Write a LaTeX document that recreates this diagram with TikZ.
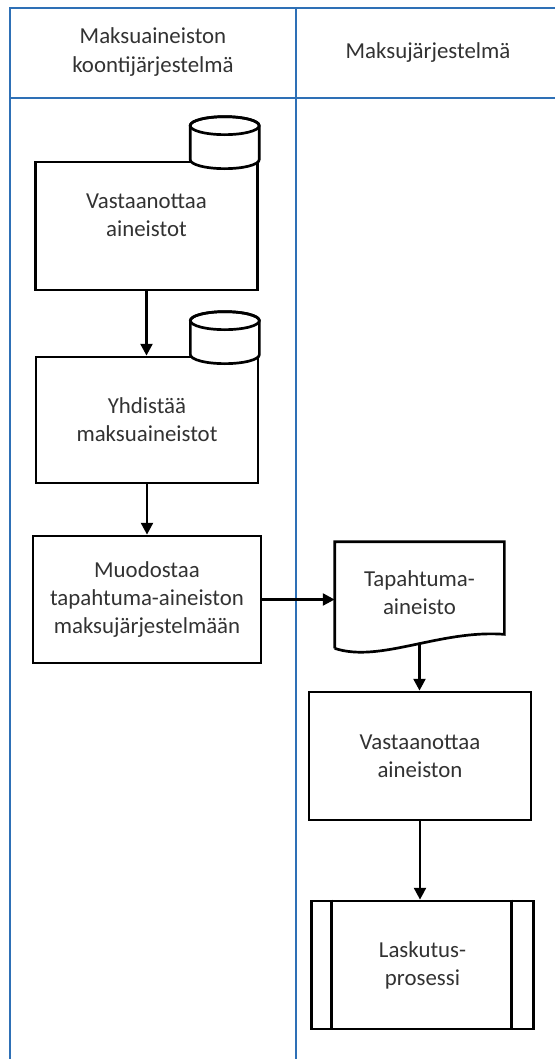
\documentclass[tikz,border=0pt]{standalone}
\usepackage{fontspec}
\setmainfont{Carlito}
\usetikzlibrary{arrows.meta,calc}
\definecolor{lanecol}{RGB}{46,112,182}
\definecolor{txtcol}{RGB}{50,50,50}

\begin{document}
\begin{tikzpicture}[x=0.03cm,y=-0.03cm,->,>={Triangle[length=10pt,width=10pt]},
    line width=2.3pt,font=\fontsize{19.5}{24}\selectfont]
  \tikzstyle{lane}=[-,draw=lanecol,line width=2pt]
  \tikzstyle{head}=[text=txtcol,align=center]
  \tikzstyle{task}=[rectangle,draw,text=txtcol,align=center,minimum width=6.68cm,minimum height=3.84cm]
  \useasboundingbox (0,0) rectangle (555,1059);
  % swimlanes
  \draw[lane] (10,1059) -- (10,8) -- (555,8);
  \draw[lane] (10,98) -- (555,98);
  \draw[lane] (296,8) -- (296,1059);
  \node[head] (hdrA) at (153,52) {Maksuaineiston\\koontijärjestelmä};
  \node[head] (hdrB) at (428,53) {Maksujärjestelmä};
  % left lane
  \node[task] (recv) at (146.5,226) {Vastaanottaa\\aineistot\\[-5pt]~};
  \node[task,minimum width=6.66cm,minimum height=3.78cm] (merge) at (147,420) {Yhdistää\\maksuaineistot};
  \node[task,minimum width=6.84cm,minimum height=3.81cm] (build) at (147,599.5) {Muodostaa\\tapahtuma-aineiston\\maksujärjestelmään};
  \foreach \b in {recv,merge}
  {
    \filldraw[-,fill=white] ($(\b.north east)+(0,-35)$) -- ($(\b.north east)+(0,-1)$)
      arc[start angle=0,end angle=180,x radius=34.5,y radius=9]
      -- ($(\b.north east)+(-69,-35)$)
      arc[start angle=180,end angle=360,x radius=34.5,y radius=9];
    \draw[-] ($(\b.north east)+(-34.5,-35)$) ellipse [x radius=34.5,y radius=9];
  }
  % right lane
  \node[text=txtcol,align=center,minimum width=5.01cm,minimum height=2.97cm] (doc) at (419.5,592.5) {Tapahtuma-\\aineisto};
  \draw[-] ($(doc.south west)+(0,5)$) -- (doc.north west) -- (doc.north east) -- ($(doc.south east)+(0,-9)$)
    .. controls ($(doc.south)+(20.5,-14)$) and ($(doc.south)+(-39.5,20)$) .. ($(doc.south west)+(0,5)$);
  \node[task,minimum width=6.66cm] (recv2) at (420,756) {Vastaanottaa\\aineiston};
  \node[task] (billing) at (422.5,965) {Laskutus-\\prosessi};
  \draw[-] ($(billing.north west)+(22,0)$) -- ($(billing.south west)+(22,0)$);
  \draw[-] ($(billing.north east)+(-24,0)$) -- ($(billing.south east)+(-24,0)$);
  % flow
  \draw (recv.south) -- (recv.south |- merge.north);
  \draw (merge.south) -- (merge.south |- build.north);
  \draw (build.east) -- (build.east -| doc.west);
  \draw (doc.south) -- (doc.south |- recv2.north);
  \draw (recv2.south) -- (recv2.south |- billing.north);
\end{tikzpicture}
\end{document}
